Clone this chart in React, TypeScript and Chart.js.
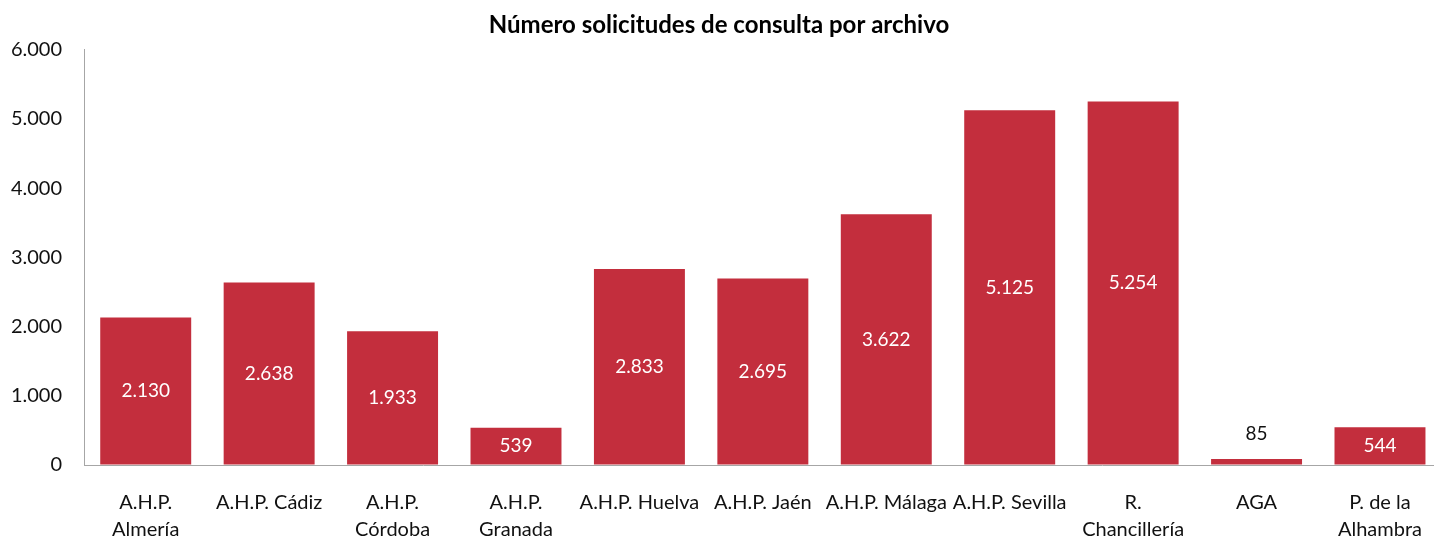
import React, { useEffect, useRef } from "react";
import { Chart, registerables } from "chart.js";

Chart.register(...registerables);

const TITLE = "Número solicitudes de consulta por archivo";
const CATEGORIES: (string | string[])[] = [
  ["A.H.P.", "Almería"],
  "A.H.P. Cádiz",
  ["A.H.P.", "Córdoba"],
  ["A.H.P.", "Granada"],
  "A.H.P. Huelva",
  "A.H.P. Jaén",
  "A.H.P. Málaga",
  "A.H.P. Sevilla",
  ["R.", "Chancillería"],
  "AGA",
  ["P. de la", "Alhambra"],
];
const VALUES = [2130, 2638, 1933, 539, 2833, 2695, 3622, 5125, 5254, 85, 544];
const Y_TICKS = [0, 1000, 2000, 3000, 4000, 5000, 6000];

const FONT = "Lato, 'Noto Sans', sans-serif";
const BAR_COLOR = "#C32E3D";
const TEXT_COLOR = "#111111";
const AXIS_COLOR = "#A6A6A6";

const fmt = (v: number) =>
  Math.round(v)
    .toString()
    .replace(/\B(?=(\d{3})+(?!\d))/g, ".");

const labelPlugin = {
  id: "barLabels",
  afterDatasetsDraw(chart: any) {
    const ctx = chart.ctx;
    const meta = chart.getDatasetMeta(0);
    ctx.save();
    ctx.font = `19px ${FONT}`;
    ctx.textAlign = "center";
    ctx.textBaseline = "middle";
    meta.data.forEach((bar: any, i: number) => {
      const v = VALUES[i];
      const h = bar.base - bar.y;
      if (h < 30) {
        ctx.fillStyle = TEXT_COLOR;
        ctx.fillText(fmt(v), bar.x, bar.y - 25);
      } else {
        ctx.fillStyle = "#FFFFFF";
        ctx.fillText(fmt(v), bar.x, (bar.y + bar.base) / 2);
      }
    });
    ctx.restore();
  },
};

export default function App() {
  const ref = useRef<HTMLCanvasElement | null>(null);
  useEffect(() => {
    if (!ref.current) return;
    const chart = new Chart(ref.current, {
      type: "bar",
      data: {
        labels: CATEGORIES,
        datasets: [
          {
            data: VALUES,
            backgroundColor: BAR_COLOR,
            categoryPercentage: 1,
            barPercentage: 0.737,
          },
        ],
      },
      plugins: [labelPlugin],
      options: {
        animation: false,
        responsive: false,
        layout: { padding: { top: 0, right: 0, bottom: 0, left: 0 } },
        plugins: {
          legend: { display: false },
          tooltip: { enabled: false },
          title: {
            display: true,
            text: TITLE,
            color: "#000000",
            font: { family: FONT, size: 24, weight: "bold", lineHeight: 1.2 },
            padding: { top: 11, bottom: 10 },
          },
        },
        scales: {
          x: {
            grid: { drawOnChartArea: false, drawTicks: false },
            border: { display: true, color: AXIS_COLOR, width: 1 },
            ticks: {
              color: TEXT_COLOR,
              font: { family: FONT, size: 20, lineHeight: 1.35 },
              padding: 24,
              maxRotation: 0,
              autoSkip: false,
            },
            afterFit: (s: any) => {
              s.height = 73;
            },
          },
          y: {
            min: 0,
            max: 6000,
            grid: { drawOnChartArea: false, drawTicks: false },
            border: { display: true, color: AXIS_COLOR, width: 1 },
            afterBuildTicks: (s: any) => {
              s.ticks = Y_TICKS.map((v) => ({ value: v }));
            },
            ticks: {
              color: TEXT_COLOR,
              font: { family: FONT, size: 20 },
              padding: 22,
              callback: (v: any) => fmt(Number(v)),
            },
            afterFit: (s: any) => {
              s.width = 92;
            },
          },
        },
      },
    } as any);
    return () => chart.destroy();
  }, []);
  return (
    <div style={{ position: "fixed", left: -8, top: 0, width: 1454, height: 538 }}>
      <canvas ref={ref} width={1454} height={538} style={{ display: "block" }} />
    </div>
  );
}
